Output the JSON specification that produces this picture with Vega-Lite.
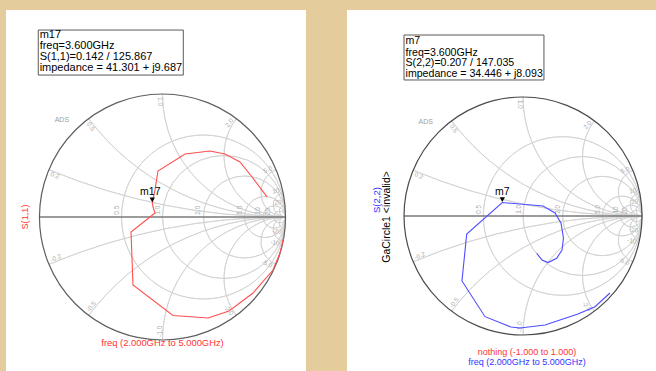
{
  "$schema": "https://vega.github.io/schema/vega-lite/v6.json",
  "background": "#e4cc9c",
  "padding": {"left": 6, "top": 10, "right": 0, "bottom": 0},
  "spacing": 41,
  "bounds": "flush",
  "config": {"view": {"fill": "white", "stroke": null}, "text": {"font": "Liberation Sans"}},
  "datasets": {
    "rc": [
      {"r": 0.5, "gx": 0.3333, "gy": 0, "rad": 0.6667, "t1": 0, "t2": 6.2832},
      {"r": 1, "gx": 0.5, "gy": 0, "rad": 0.5, "t1": 0, "t2": 6.2832},
      {"r": 2, "gx": 0.6667, "gy": 0, "rad": 0.3333, "t1": 0, "t2": 6.2832},
      {"r": 5, "gx": 0.8333, "gy": 0, "rad": 0.1667, "t1": 0, "t2": 6.2832},
      {"r": 10, "gx": 0.9091, "gy": 0, "rad": 0.0909, "t1": 0, "t2": 6.2832},
      {"r": 20, "gx": 0.9524, "gy": 0, "rad": 0.0476, "t1": 0, "t2": 6.2832}
    ],
    "rim": [{"r": 0, "gx": 0, "gy": 0, "rad": 1, "t1": 0, "t2": 6.2832}],
    "xa": [
      {"x": 0.2, "gx": 1, "gy": 5, "rad": 5, "t1": 3.14159, "t2": 3.53639},
      {"x": 0.5, "gx": 1, "gy": 2, "rad": 2, "t1": 3.14159, "t2": 4.06889},
      {"x": 1, "gx": 1, "gy": 1, "rad": 1, "t1": 3.14159, "t2": 4.71239},
      {"x": 2, "gx": 1, "gy": 0.5, "rad": 0.5, "t1": 3.14159, "t2": 5.35589},
      {"x": 5, "gx": 1, "gy": 0.2, "rad": 0.2, "t1": 3.14159, "t2": 5.88839},
      {"x": 10, "gx": 1, "gy": 0.1, "rad": 0.1, "t1": 3.14159, "t2": 6.08386},
      {"x": 20, "gx": 1, "gy": 0.05, "rad": 0.05, "t1": 3.14159, "t2": 6.18327},
      {"x": -0.2, "gx": 1, "gy": -5, "rad": 5, "t1": -0.39479, "t2": 0},
      {"x": -0.5, "gx": 1, "gy": -2, "rad": 2, "t1": -0.9273, "t2": 0},
      {"x": -1, "gx": 1, "gy": -1, "rad": 1, "t1": -1.5708, "t2": 0},
      {"x": -2, "gx": 1, "gy": -0.5, "rad": 0.5, "t1": -2.2143, "t2": 0},
      {"x": -5, "gx": 1, "gy": -0.2, "rad": 0.2, "t1": -2.7468, "t2": 0},
      {"x": -10, "gx": 1, "gy": -0.1, "rad": 0.1, "t1": -2.94227, "t2": 0},
      {"x": -20, "gx": 1, "gy": -0.05, "rad": 0.05, "t1": -3.04168, "t2": 0}
    ],
    "axis": [{"gx": -1, "gx2": 1, "gy": 0}],
    "axl": [
      {"t": "0.5", "gx": -0.372, "gy": 0.055},
      {"t": "1.0", "gx": -0.035, "gy": 0.055},
      {"t": "2.0", "gx": 0.292, "gy": 0.055},
      {"t": "5.0", "gx": 0.63, "gy": 0.055},
      {"t": "10", "gx": 0.779, "gy": 0.05},
      {"t": "20", "gx": 0.86, "gy": 0.045}
    ],
    "ul": [
      {"t": "0.2", "gx": -0.9, "gy": 0.375, "a": 22.6},
      {"t": "0.5", "gx": -0.585, "gy": 0.78, "a": 53.1},
      {"t": "1.0", "gx": 0, "gy": 0.975, "a": 90}
    ],
    "ll": [
      {"t": "-0.2", "gx": -0.9, "gy": -0.375, "a": -22.6},
      {"t": "-0.5", "gx": -0.585, "gy": -0.78, "a": -53.1},
      {"t": "-1.0", "gx": 0, "gy": -0.975, "a": -90}
    ],
    "ur": [
      {"t": "2.0", "gx": 0.585, "gy": 0.78, "a": -53.1},
      {"t": "5.0", "gx": 0.9, "gy": 0.375, "a": -22.6},
      {"t": "10", "gx": 0.956, "gy": 0.193, "a": -11.4},
      {"t": "20", "gx": 0.97, "gy": 0.097, "a": -5.7}
    ],
    "lr": [
      {"t": "-2.0", "gx": 0.585, "gy": -0.78, "a": 53.1},
      {"t": "-5.0", "gx": 0.9, "gy": -0.375, "a": 22.6},
      {"t": "-10", "gx": 0.956, "gy": -0.193, "a": 11.4},
      {"t": "-20", "gx": 0.97, "gy": -0.097, "a": 5.7}
    ],
    "ads": [{"t": "ADS", "gx": -0.818, "gy": 0.79}],
    "s11": [
      {"i": 1, "gx": 0.985, "gy": -0.17},
      {"i": 2, "gx": 0.955, "gy": -0.293},
      {"i": 3, "gx": 0.898, "gy": -0.431},
      {"i": 4, "gx": 0.736, "gy": -0.618},
      {"i": 5, "gx": 0.541, "gy": -0.764},
      {"i": 6, "gx": 0.37, "gy": -0.821},
      {"i": 7, "gx": 0.085, "gy": -0.801},
      {"i": 8, "gx": -0.24, "gy": -0.553},
      {"i": 9, "gx": -0.256, "gy": -0.122},
      {"i": 10, "gx": -0.102, "gy": 0.0},
      {"i": 11, "gx": -0.061, "gy": 0.033},
      {"i": 12, "gx": -0.077, "gy": 0.081},
      {"i": 13, "gx": -0.083, "gy": 0.115},
      {"i": 14, "gx": -0.061, "gy": 0.22},
      {"i": 15, "gx": -0.037, "gy": 0.374},
      {"i": 16, "gx": 0.183, "gy": 0.512},
      {"i": 17, "gx": 0.386, "gy": 0.537},
      {"i": 18, "gx": 0.508, "gy": 0.512},
      {"i": 19, "gx": 0.63, "gy": 0.447},
      {"i": 20, "gx": 0.728, "gy": 0.325},
      {"i": 21, "gx": 0.85, "gy": 0.163}
    ],
    "s22": [
      {"i": 1, "gx": 0.731, "gy": -0.647},
      {"i": 2, "gx": 0.605, "gy": -0.762},
      {"i": 3, "gx": 0.462, "gy": -0.824},
      {"i": 4, "gx": 0.185, "gy": -0.916},
      {"i": 5, "gx": -0.025, "gy": -0.941},
      {"i": 6, "gx": -0.101, "gy": -0.933},
      {"i": 7, "gx": -0.319, "gy": -0.846},
      {"i": 8, "gx": -0.513, "gy": -0.546},
      {"i": 9, "gx": -0.473, "gy": -0.151},
      {"i": 10, "gx": -0.174, "gy": 0.113},
      {"i": 11, "gx": 0.168, "gy": 0.084},
      {"i": 12, "gx": 0.269, "gy": 0.025},
      {"i": 13, "gx": 0.319, "gy": -0.059},
      {"i": 14, "gx": 0.34, "gy": -0.185},
      {"i": 15, "gx": 0.328, "gy": -0.286},
      {"i": 16, "gx": 0.283, "gy": -0.355},
      {"i": 17, "gx": 0.21, "gy": -0.391},
      {"i": 18, "gx": 0.16, "gy": -0.37},
      {"i": 19, "gx": 0.115, "gy": -0.313}
    ],
    "m1": [{"t": "m17", "freq": 3.6, "mag": 0.142, "ang": 125.867, "gx": -0.0832, "gy": 0.1151}],
    "m2": [{"t": "m7", "freq": 3.6, "mag": 0.207, "ang": 147.035, "gx": -0.1737, "gy": 0.1126}],
    "box1": [{"gx": -1.01, "gx2": 0.169, "gy": 1.52, "gy2": 1.154}],
    "box2": [{"gx": -1.0, "gx2": 0.176, "gy": 1.521, "gy2": 1.143}],
    "txt1": [
      {"t": "m17", "gx": -0.999, "gy": 1.48},
      {"t": "freq=3.600GHz", "gx": -0.999, "gy": 1.39},
      {"t": "S(1,1)=0.142 / 125.867", "gx": -0.999, "gy": 1.301},
      {"t": "impedance = 41.301 + j9.687", "gx": -0.999, "gy": 1.211}
    ],
    "txt2": [
      {"t": "m7", "gx": -0.987, "gy": 1.471},
      {"t": "freq=3.600GHz", "gx": -0.987, "gy": 1.372},
      {"t": "S(2,2)=0.207 / 147.035", "gx": -0.987, "gy": 1.283},
      {"t": "impedance = 34.446 + j8.093", "gx": -0.987, "gy": 1.193}
    ]
  },
  "hconcat": [
    {
      "width": 300,
      "height": 361,
      "encoding": {
        "x": {"field": "gx", "type": "quantitative", "scale": {"domain": [-1.2724, 1.1667], "nice": false, "zero": false}, "axis": null},
        "y": {"field": "gy", "type": "quantitative", "scale": {"domain": [-1.252, 1.6829], "nice": false, "zero": false}, "axis": null}
      },
      "layer": [
        {"data": {"name": "rc"}, "mark": {"type": "arc", "filled": false, "stroke": "#d0d0d0", "strokeWidth": 0.8, "clip": true},
         "encoding": {"radius": {"field": "rad", "type": "quantitative", "scale": {"type": "linear", "domain": [0, 1], "range": [0, 123], "zero": true, "nice": false}}, "radius2": {"field": "rad"}, "theta": {"field": "t1", "type": "quantitative", "scale": null, "stack": null}, "theta2": {"field": "t2"}}},
        {"data": {"name": "xa"}, "mark": {"type": "arc", "filled": false, "stroke": "#d0d0d0", "strokeWidth": 0.8, "clip": true},
         "encoding": {"radius": {"field": "rad", "type": "quantitative", "scale": {"type": "linear", "domain": [0, 1], "range": [0, 123], "zero": true, "nice": false}}, "radius2": {"field": "rad"}, "theta": {"field": "t1", "type": "quantitative", "scale": null, "stack": null}, "theta2": {"field": "t2"}}},
        {"data": {"name": "axis"}, "mark": {"type": "rule", "stroke": "#7a7a7a", "strokeWidth": 1.6}, "encoding": {"x2": {"field": "gx2"}}},
        {"data": {"name": "rim"}, "mark": {"type": "arc", "filled": false, "stroke": "#5f5f5f", "strokeWidth": 1.2, "clip": true},
         "encoding": {"radius": {"field": "rad", "type": "quantitative", "scale": {"type": "linear", "domain": [0, 1], "range": [0, 123], "zero": true, "nice": false}}, "radius2": {"field": "rad"}, "theta": {"field": "t1", "type": "quantitative", "scale": null, "stack": null}, "theta2": {"field": "t2"}}},
        {"data": {"name": "axl"}, "mark": {"type": "text", "angle": -90, "fontSize": 6.5, "color": "#acacac", "align": "center", "baseline": "middle"}, "encoding": {"text": {"field": "t"}}},
        {"data": {"name": "ul"}, "mark": {"type": "text", "fontSize": 6.5, "color": "#acacac", "align": "left", "baseline": "top"}, "encoding": {"text": {"field": "t"}, "angle": {"field": "a", "type": "quantitative", "scale": null}}},
        {"data": {"name": "ll"}, "mark": {"type": "text", "fontSize": 6.5, "color": "#acacac", "align": "left", "baseline": "bottom"}, "encoding": {"text": {"field": "t"}, "angle": {"field": "a", "type": "quantitative", "scale": null}}},
        {"data": {"name": "ur"}, "mark": {"type": "text", "fontSize": 6.5, "color": "#acacac", "align": "right", "baseline": "bottom"}, "encoding": {"text": {"field": "t"}, "angle": {"field": "a", "type": "quantitative", "scale": null}}},
        {"data": {"name": "lr"}, "mark": {"type": "text", "fontSize": 6.5, "color": "#acacac", "align": "right", "baseline": "top"}, "encoding": {"text": {"field": "t"}, "angle": {"field": "a", "type": "quantitative", "scale": null}}},
        {"data": {"name": "ads"}, "mark": {"type": "text", "fontSize": 7, "color": "#a0a0a0", "align": "center", "baseline": "middle"}, "encoding": {"text": {"field": "t"}}},
        {"data": {"name": "s11"}, "mark": {"type": "line", "color": "#ff5050", "strokeWidth": 1.1, "clip": true}, "encoding": {"order": {"field": "i", "type": "quantitative"}}},
        {"data": {"name": "m1"}, "mark": {"type": "point", "shape": "triangle-down", "filled": true, "color": "#000000", "size": 28, "yOffset": -3, "opacity": 1}},
        {"data": {"name": "m1"}, "mark": {"type": "text", "fontSize": 10.5, "color": "#000000", "align": "center", "baseline": "alphabetic", "dy": -8, "dx": -2}, "encoding": {"text": {"field": "t"}}},
        {"data": {"name": "box1"}, "mark": {"type": "rect", "fill": "#ffffff", "stroke": "#5a5a5a", "strokeWidth": 1}, "encoding": {"x2": {"field": "gx2"}, "y2": {"field": "gy2"}}},
        {"data": {"name": "txt1"}, "mark": {"type": "text", "fontSize": 11, "color": "#000000", "align": "left", "baseline": "middle"}, "encoding": {"text": {"field": "t"}}},
        {"data": {"values": [{"t": "S(1,1)", "gx": -1.118, "gy": 0}]}, "mark": {"type": "text", "angle": -90, "fontSize": 9.2, "color": "#ff3333", "align": "center", "baseline": "middle"}, "encoding": {"text": {"field": "t"}}},
        {"data": {"values": [{"t": "freq (2.000GHz to 5.000GHz)", "gx": 0, "gy": -1.024}]}, "mark": {"type": "text", "fontSize": 9.4, "color": "#ff3333", "align": "center", "baseline": "middle"}, "encoding": {"text": {"field": "t"}}}
      ]
    },
    {
      "width": 309,
      "height": 361,
      "encoding": {
        "x": {"field": "gx", "type": "quantitative", "scale": {"domain": [-1.479, 1.1176], "nice": false, "zero": false}, "axis": null},
        "y": {"field": "gy", "type": "quantitative", "scale": {"domain": [-1.3025, 1.7311], "nice": false, "zero": false}, "axis": null}
      },
      "layer": [
        {"data": {"name": "rc"}, "mark": {"type": "arc", "filled": false, "stroke": "#d0d0d0", "strokeWidth": 0.8, "clip": true},
         "encoding": {"radius": {"field": "rad", "type": "quantitative", "scale": {"type": "linear", "domain": [0, 1], "range": [0, 119], "zero": true, "nice": false}}, "radius2": {"field": "rad"}, "theta": {"field": "t1", "type": "quantitative", "scale": null, "stack": null}, "theta2": {"field": "t2"}}},
        {"data": {"name": "xa"}, "mark": {"type": "arc", "filled": false, "stroke": "#d0d0d0", "strokeWidth": 0.8, "clip": true},
         "encoding": {"radius": {"field": "rad", "type": "quantitative", "scale": {"type": "linear", "domain": [0, 1], "range": [0, 119], "zero": true, "nice": false}}, "radius2": {"field": "rad"}, "theta": {"field": "t1", "type": "quantitative", "scale": null, "stack": null}, "theta2": {"field": "t2"}}},
        {"data": {"name": "axis"}, "mark": {"type": "rule", "stroke": "#7a7a7a", "strokeWidth": 1.6}, "encoding": {"x2": {"field": "gx2"}}},
        {"data": {"name": "rim"}, "mark": {"type": "arc", "filled": false, "stroke": "#4a4a4a", "strokeWidth": 1.2, "clip": true},
         "encoding": {"radius": {"field": "rad", "type": "quantitative", "scale": {"type": "linear", "domain": [0, 1], "range": [0, 119], "zero": true, "nice": false}}, "radius2": {"field": "rad"}, "theta": {"field": "t1", "type": "quantitative", "scale": null, "stack": null}, "theta2": {"field": "t2"}}},
        {"data": {"name": "axl"}, "mark": {"type": "text", "angle": -90, "fontSize": 6.3, "color": "#acacac", "align": "center", "baseline": "middle"}, "encoding": {"text": {"field": "t"}}},
        {"data": {"name": "ul"}, "mark": {"type": "text", "fontSize": 6.3, "color": "#acacac", "align": "left", "baseline": "top"}, "encoding": {"text": {"field": "t"}, "angle": {"field": "a", "type": "quantitative", "scale": null}}},
        {"data": {"name": "ll"}, "mark": {"type": "text", "fontSize": 6.3, "color": "#acacac", "align": "left", "baseline": "bottom"}, "encoding": {"text": {"field": "t"}, "angle": {"field": "a", "type": "quantitative", "scale": null}}},
        {"data": {"name": "ur"}, "mark": {"type": "text", "fontSize": 6.3, "color": "#acacac", "align": "right", "baseline": "bottom"}, "encoding": {"text": {"field": "t"}, "angle": {"field": "a", "type": "quantitative", "scale": null}}},
        {"data": {"name": "lr"}, "mark": {"type": "text", "fontSize": 6.3, "color": "#acacac", "align": "right", "baseline": "top"}, "encoding": {"text": {"field": "t"}, "angle": {"field": "a", "type": "quantitative", "scale": null}}},
        {"data": {"name": "ads"}, "mark": {"type": "text", "fontSize": 7, "color": "#a0a0a0", "align": "center", "baseline": "middle"}, "encoding": {"text": {"field": "t"}}},
        {"data": {"name": "s22"}, "mark": {"type": "line", "color": "#4d4dff", "strokeWidth": 1.1, "clip": true}, "encoding": {"order": {"field": "i", "type": "quantitative"}}},
        {"data": {"name": "m2"}, "mark": {"type": "point", "shape": "triangle-down", "filled": true, "color": "#000000", "size": 28, "yOffset": -3, "opacity": 1}},
        {"data": {"name": "m2"}, "mark": {"type": "text", "fontSize": 10.5, "color": "#000000", "align": "center", "baseline": "alphabetic", "dy": -8}, "encoding": {"text": {"field": "t"}}},
        {"data": {"name": "box2"}, "mark": {"type": "rect", "fill": "#ffffff", "stroke": "#5a5a5a", "strokeWidth": 1}, "encoding": {"x2": {"field": "gx2"}, "y2": {"field": "gy2"}}},
        {"data": {"name": "txt2"}, "mark": {"type": "text", "fontSize": 10.6, "color": "#000000", "align": "left", "baseline": "middle"}, "encoding": {"text": {"field": "t"}}},
        {"data": {"values": [{"t": "S(2,2)", "gx": -1.224, "gy": 0.134}]}, "mark": {"type": "text", "angle": -90, "fontSize": 9.5, "color": "#3333ff", "align": "center", "baseline": "middle"}, "encoding": {"text": {"field": "t"}}},
        {"data": {"values": [{"t": "GaCircle1 <invalid>", "gx": -1.143, "gy": -0.008}]}, "mark": {"type": "text", "angle": -90, "fontSize": 10.5, "color": "#000000", "align": "center", "baseline": "middle"}, "encoding": {"text": {"field": "t"}}},
        {"data": {"values": [{"t": "nothing (-1.000 to 1.000)", "gx": 0.034, "gy": -1.143}]}, "mark": {"type": "text", "fontSize": 9, "color": "#ff3333", "align": "center", "baseline": "middle"}, "encoding": {"text": {"field": "t"}}},
        {"data": {"values": [{"t": "freq (2.000GHz to 5.000GHz)", "gx": 0.034, "gy": -1.227}]}, "mark": {"type": "text", "fontSize": 9, "color": "#3333ff", "align": "center", "baseline": "middle"}, "encoding": {"text": {"field": "t"}}}
      ]
    }
  ]
}
